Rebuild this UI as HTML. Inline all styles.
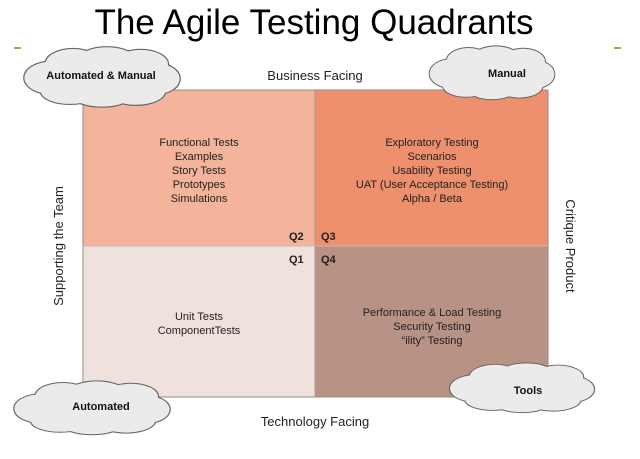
<!DOCTYPE html>
<html><head><style>
body{margin:0;background:#fff;}
svg text{font-family:"Liberation Sans",Arial,sans-serif;}
</style></head><body>
<svg width="640" height="454" viewBox="0 0 640 454" xmlns="http://www.w3.org/2000/svg">
<defs>
<g id="cl">
<ellipse cx="-52" cy="2" rx="28" ry="18"/>
<ellipse cx="-30" cy="-14" rx="28" ry="16"/>
<ellipse cx="5" cy="-17" rx="30" ry="15"/>
<ellipse cx="40" cy="-13" rx="28" ry="16"/>
<ellipse cx="56" cy="3" rx="24" ry="17"/>
<ellipse cx="35" cy="17" rx="30" ry="15"/>
<ellipse cx="0" cy="20" rx="32" ry="14"/>
<ellipse cx="-33" cy="17" rx="30" ry="14"/>
<ellipse cx="0" cy="0" rx="60" ry="20"/>
</g>
</defs>
<text x="314" y="34" font-size="35" text-anchor="middle" fill="#000">The Agile Testing Quadrants</text>
<rect x="14" y="47" width="7" height="2" fill="#b8a040"/>
<rect x="614" y="47" width="7" height="2" fill="#b8a040"/>
<rect x="83" y="90" width="232" height="156" fill="#f4b49b"/>
<rect x="315" y="90" width="233" height="156" fill="#ee8f6e"/>
<rect x="83" y="246" width="232" height="151" fill="#efe2dd"/>
<rect x="315" y="246" width="233" height="151" fill="#b89284"/>
<rect x="83" y="90" width="465" height="307" fill="none" stroke="#9a8a86" stroke-width="1"/>
<line x1="315" y1="90" x2="315" y2="397" stroke="#aa9a96"/>
<line x1="83" y1="246" x2="548" y2="246" stroke="#c8b8b4"/>
<g font-size="11" fill="#222" text-anchor="middle">
<text x="199" y="146">Functional Tests</text><text x="199" y="160">Examples</text><text x="199" y="174">Story Tests</text><text x="199" y="188">Prototypes</text><text x="199" y="202">Simulations</text>
<text x="432" y="146">Exploratory Testing</text><text x="432" y="160">Scenarios</text><text x="432" y="174">Usability Testing</text><text x="432" y="188">UAT (User Acceptance Testing)</text><text x="432" y="202">Alpha / Beta</text>
<text x="199" y="320">Unit Tests</text><text x="199" y="334">ComponentTests</text>
<text x="432" y="316">Performance &amp; Load Testing</text><text x="432" y="330">Security Testing</text><text x="432" y="344">“ility” Testing</text>
</g>
<g font-size="11" font-weight="bold" fill="#222">
<text x="289" y="240">Q2</text><text x="321" y="240">Q3</text><text x="289" y="263">Q1</text><text x="321" y="263">Q4</text>
</g>
<g font-size="13" fill="#222" text-anchor="middle">
<text x="315" y="80">Business Facing</text>
<text x="315" y="426">Technology Facing</text>
<text transform="translate(63,246) rotate(-90)">Supporting the Team</text>
<text transform="translate(566,246) rotate(90)">Critique Product</text>
</g>
<g transform="translate(102,76) scale(0.97,0.9)"><use href="#cl" fill="none" stroke="#666" stroke-width="2.5"/><use href="#cl" fill="#ebebeb"/></g>
<g transform="translate(492,72) scale(0.78,0.8)"><use href="#cl" fill="none" stroke="#666" stroke-width="2.5"/><use href="#cl" fill="#ebebeb"/></g>
<g transform="translate(92,407) scale(0.97,0.8)"><use href="#cl" fill="none" stroke="#666" stroke-width="2.5"/><use href="#cl" fill="#ebebeb"/></g>
<g transform="translate(522,387) scale(0.9,0.74)"><use href="#cl" fill="none" stroke="#666" stroke-width="2.5"/><use href="#cl" fill="#ebebeb"/></g>
<g font-size="11" font-weight="bold" fill="#111" text-anchor="middle">
<text x="101" y="79">Automated &amp; Manual</text>
<text x="507" y="77">Manual</text>
<text x="101" y="410">Automated</text>
<text x="528" y="394">Tools</text>
</g>
</svg>
</body></html>
